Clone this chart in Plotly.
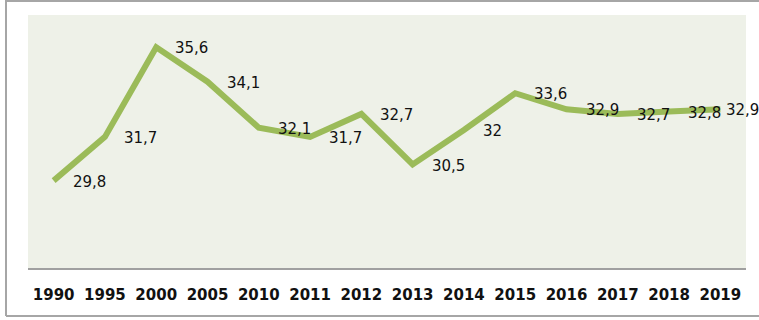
import plotly.graph_objects as go

years = ["1990", "1995", "2000", "2005", "2010", "2011", "2012", "2013",
         "2014", "2015", "2016", "2017", "2018", "2019"]
values = [29.8, 31.7, 35.6, 34.1, 32.1, 31.7, 32.7, 30.5,
          32.0, 33.6, 32.9, 32.7, 32.8, 32.9]
labels = ["29,8", "31,7", "35,6", "34,1", "32,1", "31,7", "32,7", "30,5",
          "32", "33,6", "32,9", "32,7", "32,8", "32,9"]

W, H = 759, 320
ML, MR, MT, MB = 28, 13, 15, 52
PW, PH = W - ML - MR, H - MT - MB

def px(x):
    return (x - ML) / PW

def py(y):
    return 1 - (y - MT) / PH

fig = go.Figure()
fig.add_trace(go.Scatter(
    x=years, y=values, mode="lines",
    line=dict(color="#9BBB59", width=6),
    hoverinfo="skip", showlegend=False,
))

annotations = []
for i, (v, lab) in enumerate(zip(values, labels)):
    shift = 4 if i == len(years) - 1 else 17
    annotations.append(dict(
        x=i, y=v, xref="x", yref="y", text=lab, showarrow=False,
        xanchor="left", yanchor="middle", xshift=shift, yshift=-1,
        font=dict(family="DejaVu Sans", size=15, color="#111111"),
    ))

border = dict(type="line", xref="paper", yref="paper",
              line=dict(color="#A6A6A6", width=2))
shapes = [
    dict(border, x0=px(6), x1=px(6), y0=py(0), y1=py(316)),
    dict(border, x0=px(6), x1=px(760), y0=py(1), y1=py(1)),
    dict(border, x0=px(6), x1=px(760), y0=py(316), y1=py(316)),
]

fig.update_layout(
    width=W, height=H,
    margin=dict(l=ML, r=MR, t=MT, b=MB),
    paper_bgcolor="white",
    plot_bgcolor="#EEF1E8",
    annotations=annotations,
    shapes=shapes,
    xaxis=dict(
        type="category", range=[-0.5, len(years) - 0.5],
        showgrid=False, zeroline=False,
        showline=True, linecolor="#A0A0A0", linewidth=1.5,
        ticks="", ticklabelstandoff=12,
        tickfont=dict(family="DejaVu Sans", size=15, color="#111111",
                      weight="bold"),
    ),
    yaxis=dict(range=[26, 37], visible=False, showgrid=False, zeroline=False),
)

fig.write_html("out.html", config={"displayModeBar": False})
